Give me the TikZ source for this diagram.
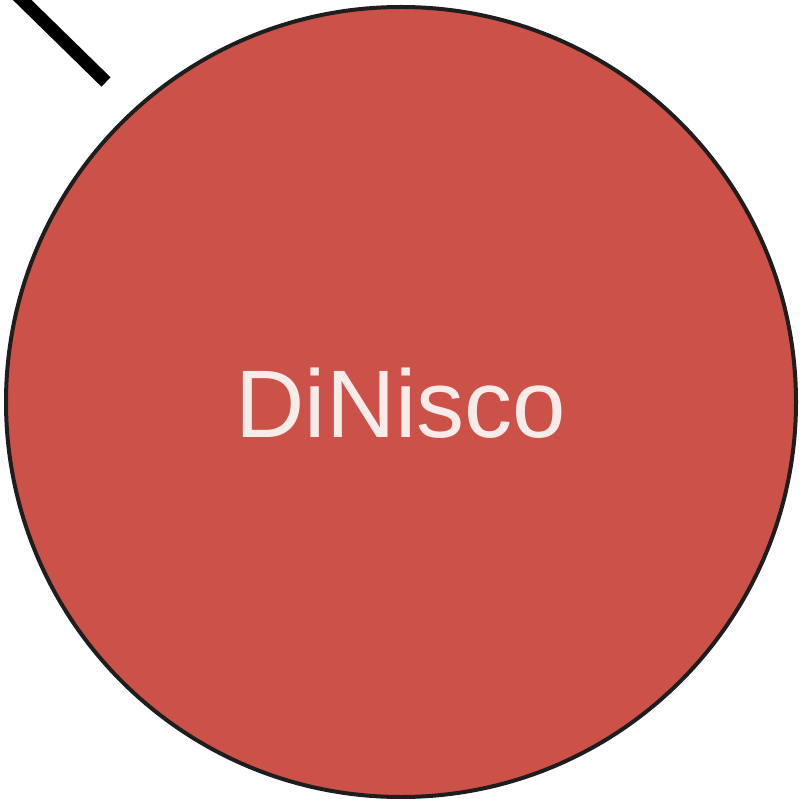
\documentclass[tikz,border=0pt]{standalone}
\usepackage{fontspec}
\setmainfont{Liberation Sans}
\definecolor{discfill}{HTML}{CC5249}
\definecolor{discline}{HTML}{1E1E1E}
\definecolor{disctext}{HTML}{F8ECEA}
\tikzset{
  disc/.style={circle, draw=discline, line width=4pt, fill=discfill, minimum size=790pt, inner sep=0pt},
  disclabel/.style={text=disctext, font=\fontsize{96}{96}\selectfont, inner sep=0pt, anchor=base},
  stub/.style={draw=black, line width=13pt, line cap=butt}
}
\begin{document}
\begin{tikzpicture}[x=1pt,y=-1pt]
\useasboundingbox (0,0) rectangle (805,799);
\node[disc] (c) at (401,402) {};
\coordinate (s1) at (12,-10);
\coordinate (s2) at (106,82);
\draw[stub] (s1) -- (s2);
\node[disclabel] (t) at (401,437) {DiNisco};
\end{tikzpicture}
\end{document}
